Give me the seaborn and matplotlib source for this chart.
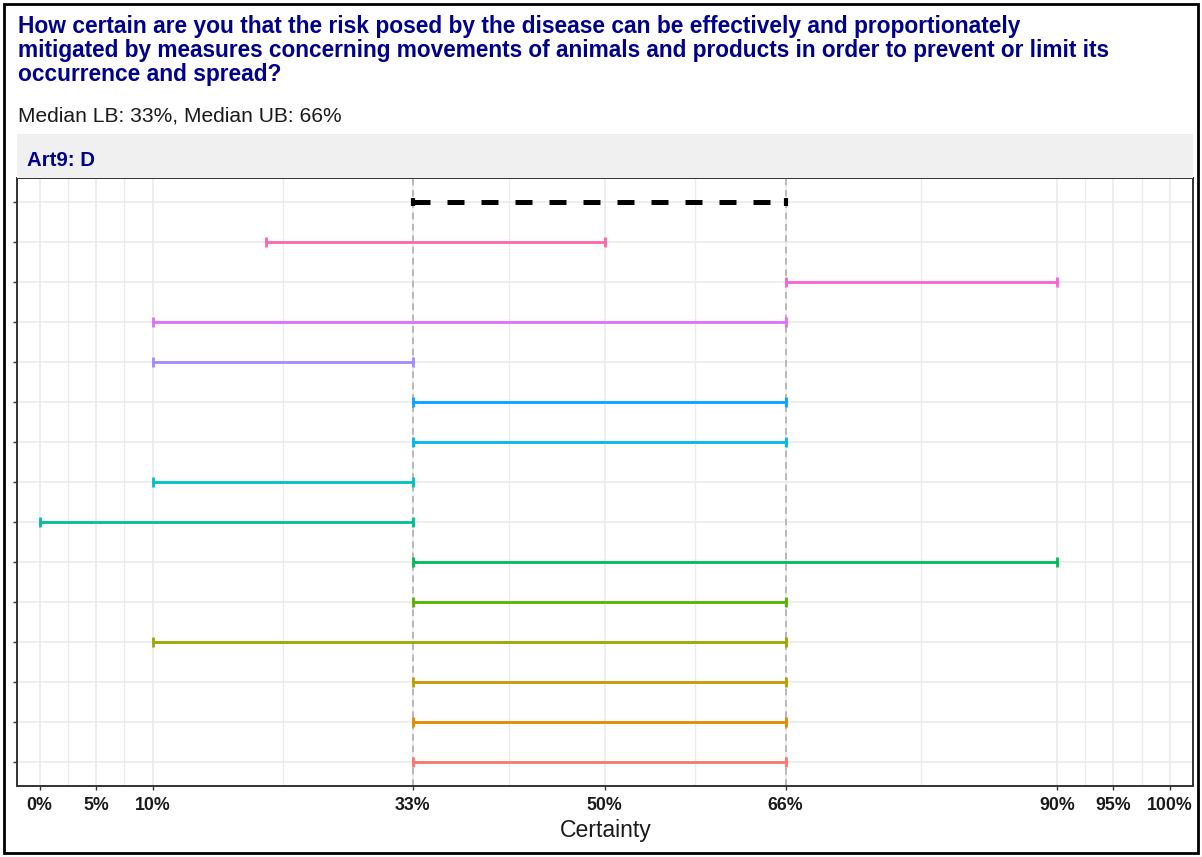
import numpy as np
import pandas as pd
import matplotlib
matplotlib.use("Agg")
import matplotlib.pyplot as plt
from matplotlib.patches import Rectangle
import seaborn as sns

# ---------------- data ----------------
title_lines = [
    "How certain are you that the risk posed by the disease can be effectively and proportionately",
    "mitigated by measures concerning movements of animals and products in order to prevent or limit its",
    "occurrence and spread?",
]
subtitle = "Median LB: 33%, Median UB: 66%"
strip_label = "Art9: D"
x_label = "Certainty"

experts = [f"E{i}" for i in range(1, 15)]          # bottom -> top
lower = [33, 33, 33, 10, 33, 33, 0, 10, 33, 33, 10, 10, 66, 20]
upper = [66, 66, 66, 66, 66, 90, 33, 33, 66, 66, 33, 66, 90, 50]
median_lb = 33
median_ub = 66
x_ticks = [0, 5, 10, 33, 50, 66, 90, 95, 100]
x_ticklabels = ["0%", "5%", "10%", "33%", "50%", "66%", "90%", "95%", "100%"]

palette = ["#F8766D", "#E38900", "#C49A00", "#99A800", "#53B400", "#00BC56", "#00C094",
           "#00BFC4", "#00B6EB", "#06A4FF", "#A58AFF", "#DF70F8", "#FB61D7", "#FF66A8"]

# ---------------- frames ----------------
pos = np.arange(1, len(experts) + 1)
df = pd.DataFrame({"expert": experts, "pos": pos, "lower": lower, "upper": upper})
long = pd.concat([
    df[["expert", "pos"]].assign(value=df["lower"]),
    df[["expert", "pos"]].assign(value=df["upper"]),
]).reset_index(drop=True)
med_pos = len(experts) + 1
med = pd.DataFrame({"expert": ["Median", "Median"], "pos": [med_pos, med_pos],
                    "value": [median_lb, median_ub]})

# ---------------- figure ----------------
sns.set_theme(style="white")
plt.rcParams["font.family"] = ["Liberation Sans", "DejaVu Sans"]

W, H = 1202, 857
fig = plt.figure(figsize=(W / 100, H / 100), dpi=100)
fig.patch.set_facecolor("white")

def fx(px):
    return px / W

def fy(py):
    return 1 - py / H

# panel
pl, pr, pt, pb = 17, 1193, 178, 786
ax = fig.add_axes([fx(pl), fy(pb), fx(pr - pl), (pb - pt) / H])
ax.set_facecolor("white")

# grid
major = x_ticks
minor = [(a + b) / 2 for a, b in zip(major[:-1], major[1:])]
for v in minor:
    ax.axvline(v, color="#EBEBEB", lw=0.9, zorder=0)
for v in major:
    ax.axvline(v, color="#EBEBEB", lw=1.2, zorder=0)
for p in list(pos) + [med_pos]:
    ax.axhline(p, color="#EBEBEB", lw=1.2, zorder=0)

# reference lines
for v in (median_lb, median_ub):
    ax.axvline(v, color="#AFAFAF", lw=1.2, ls=(0, (4, 2.8)), zorder=1)

# expert intervals
pal = dict(zip(experts, palette))
sns.lineplot(data=long, x="value", y="pos", hue="expert", palette=pal, estimator=None,
             sort=False, orient="y", legend=False, linewidth=2.0, ax=ax, zorder=3)
sns.scatterplot(data=long, x="value", y="pos", hue="expert", palette=pal, marker="|",
                s=55, linewidth=2.0, legend=False, ax=ax, zorder=4)

# median interval
sns.lineplot(data=med, x="value", y="pos", color="black", estimator=None, sort=False,
             orient="y", legend=False, linewidth=3.6, ax=ax, zorder=5)
ax.lines[-1].set_linestyle((0, (3.4, 3.4)))
sns.scatterplot(data=med, x="value", y="pos", color="black", marker="|", s=30,
                linewidth=3.0, legend=False, ax=ax, zorder=6)

ax.set_xlim(-2.0, 102.05)
ax.set_ylim(0.4, med_pos + 0.6)
ax.set_xticks(x_ticks)
ax.set_xticklabels(x_ticklabels, fontsize=12.8, fontweight="bold", color="#1a1a1a")
ax.set_yticks(list(pos) + [med_pos])
ax.set_yticklabels([])
ax.set_xlabel("")
ax.set_ylabel("")
ax.tick_params(axis="both", which="major", direction="out", length=3, width=1.0,
               color="#333333", pad=5, bottom=True, left=True)
for s in ax.spines.values():
    s.set_color("#333333")
    s.set_linewidth(1.4)

texts = []
# x label
t = fig.text(fx(606), fy(837), x_label, ha="center", va="baseline", fontsize=14,
             color="#1a1a1a")
texts.append((t, 92))

# strip
fig.patches.append(Rectangle((fx(pl), fy(pt)), fx(pr - pl), (pt - 134) / H,
                             transform=fig.transFigure, facecolor="#F0F0F0",
                             edgecolor="none", zorder=0))
t = fig.text(fx(27), fy(166), strip_label, ha="left", va="baseline", fontsize=14,
             fontweight="bold", color="#00008B")
texts.append((t, 68))

# title and subtitle
title_widths = [1004, 1092, None]
for i, line in enumerate(title_lines):
    t = fig.text(fx(18), fy(33.5 + 24 * i), line, ha="left", va="baseline", fontsize=15,
                 fontweight="bold", color="#00008B")
    texts.append((t, title_widths[i]))
t = fig.text(fx(18), fy(121), subtitle, ha="left", va="baseline", fontsize=14,
             color="#1a1a1a")
texts.append((t, 324))

# fit text widths to the reference extents
renderer = fig.canvas.get_renderer()
title_scale = []
for _ in range(2):
    for t, target in texts:
        if target is None:
            continue
        bb = t.get_window_extent(renderer)
        t.set_fontsize(t.get_fontsize() * target / bb.width)
# third title line uses the mean size of the first two
sizes = [texts[2][0].get_fontsize(), texts[3][0].get_fontsize()]
texts[4][0].set_fontsize(float(np.mean(sizes)))

# outer border
fig.patches.append(Rectangle((fx(4), fy(853)), fx(1194), (853 - 4) / H,
                             transform=fig.transFigure, facecolor="none",
                             edgecolor="black", linewidth=2.0, zorder=10))

fig.savefig("out.png", dpi=100, facecolor="white")
